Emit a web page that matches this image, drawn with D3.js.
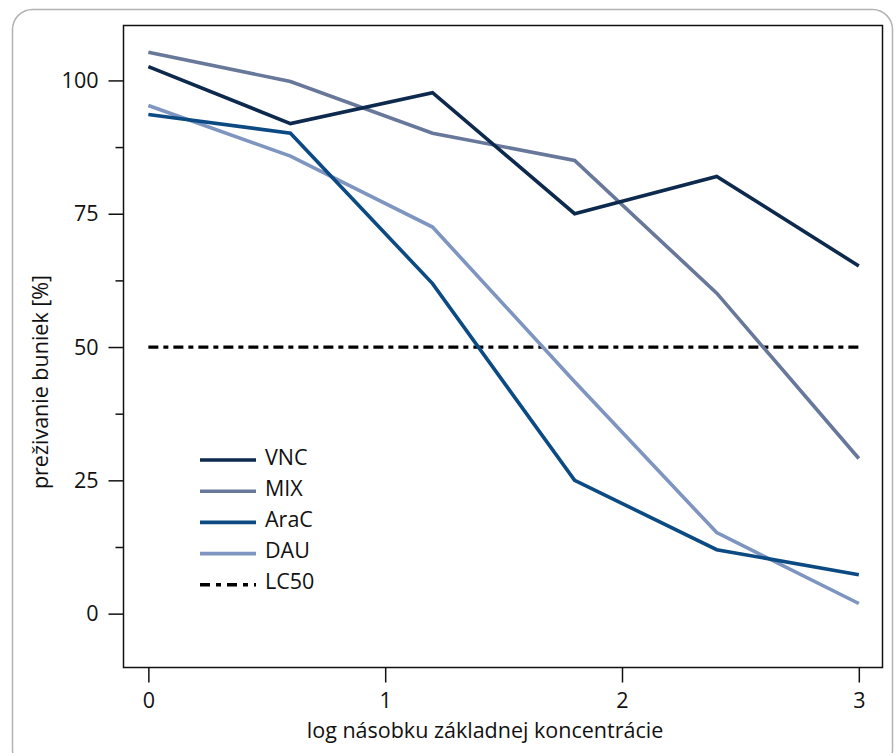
<!DOCTYPE html>
<html><head><meta charset="utf-8">
<script src="https://cdn.jsdelivr.net/npm/d3@7"></script>
<style>body{margin:0;background:#fff}svg{display:block}text{font-family:"Open Sans",sans-serif;fill:#111}</style>
</head><body>
<script>
const xValues = [0, 0.6, 1.2, 1.8, 2.4, 3.0];
const seriesNames = ["VNC", "MIX", "AraC", "DAU"];
const vnc  = [102.6, 91.9, 97.7, 75.0, 82.0, 65.2];
const mix  = [105.3, 99.8, 90.1, 85.0, 60.1, 29.1];
const arac = [93.6, 90.1, 61.9, 25.0, 12.0, 7.3];
const dau  = [95.3, 85.8, 72.5, 43.5, 15.2, 1.9];
const lc50 = 50;
const xTicks = [0, 1, 2, 3];
const yTicks = [0, 25, 50, 75, 100];
const yMinorTicks = [12.5, 37.5, 62.5, 87.5];
const colors = ["#0d2a4e", "#68789a", "#0b4a83", "#7e95c0"];

const W = 896, H = 753;
const FS = 21.5;
const LW = 3.6;
const svg = d3.select("body").append("svg").attr("width", W).attr("height", H);
svg.append("rect").attr("x", 12.5).attr("y", 9.5).attr("width", 880).attr("height", 760)
  .attr("rx", 20).attr("fill", "none").attr("stroke", "#b3b3b3").attr("stroke-width", 1.5);

const L = 123.5, R = 882.5, T = 25.5, B = 667.5;
const x = d3.scaleLinear().domain([-0.105, 3.1]).range([L, R]);
const y = d3.scaleLinear().domain([-10.1, 110.3]).range([B, T]);

const g = svg.append("g");
g.append("rect").attr("x", L).attr("y", T).attr("width", R - L).attr("height", B - T)
  .attr("fill", "none").attr("stroke", "#111").attr("stroke-width", 1.5);

// y axis
const yAx = g.append("g").attr("transform", `translate(${L},0)`)
  .call(d3.axisLeft(y).tickValues(yTicks).tickSize(15).tickPadding(10).tickFormat(d3.format("d")));
yAx.attr("font-size", null).attr("font-family", null);
yAx.select(".domain").remove();
yAx.selectAll("line").attr("stroke", "#111").attr("stroke-width", 1.5);
yAx.selectAll("text").style("font-size", FS + "px").style("fill", "#111").attr("dy", "0.33em");
const yMin = g.append("g").attr("transform", `translate(${L},0)`)
  .call(d3.axisLeft(y).tickValues(yMinorTicks).tickSize(8).tickFormat(""));
yMin.select(".domain").remove();
yMin.selectAll("line").attr("stroke", "#111").attr("stroke-width", 1.5);

// x axis
const xAx = g.append("g").attr("transform", `translate(0,${B})`)
  .call(d3.axisBottom(x).tickValues(xTicks).tickSize(15).tickPadding(0).tickFormat(d3.format("d")));
xAx.attr("font-size", null).attr("font-family", null);
xAx.select(".domain").remove();
xAx.selectAll("line").attr("stroke", "#111").attr("stroke-width", 1.5);
xAx.selectAll("text").style("font-size", FS + "px").style("fill", "#111").attr("y", 40).attr("dy", null);

// axis titles
svg.append("text").attr("x", 485).attr("y", 738).attr("text-anchor", "middle")
  .style("font-size", FS + "px").text("log násobku základnej koncentrácie");
svg.append("text").attr("transform", `translate(48,382) rotate(-90)`).attr("text-anchor", "middle")
  .style("font-size", FS + "px").text("preživanie buniek [%]");

// LC50
g.append("line").attr("x1", x(0)).attr("x2", x(3)).attr("y1", y(lc50)).attr("y2", y(lc50))
  .attr("stroke", "#000").attr("stroke-width", 3.2).attr("stroke-dasharray", "10,5,5,5");

const allSeries = [vnc, mix, arac, dau];
const line = d3.line().x((d, i) => x(xValues[i])).y(d => y(d));
[3, 2, 1, 0].forEach(k => {
  g.append("path").datum(allSeries[k]).attr("d", line).attr("fill", "none")
    .attr("stroke", colors[k]).attr("stroke-width", LW);
});

// legend
const legNames = seriesNames.concat(["LC50"]);
const legColors = colors.concat(["#000"]);
legNames.forEach((n, i) => {
  const yy = 460 + i * 31.2;
  svg.append("line").attr("x1", 200).attr("x2", 256).attr("y1", yy).attr("y2", yy)
    .attr("stroke", legColors[i]).attr("stroke-width", LW)
    .attr("stroke-dasharray", i === 4 ? "10,6,5,6" : null);
  svg.append("text").attr("x", 265).attr("y", yy + 4.5).style("font-size", FS + "px").text(n);
});
</script>
</body></html>
